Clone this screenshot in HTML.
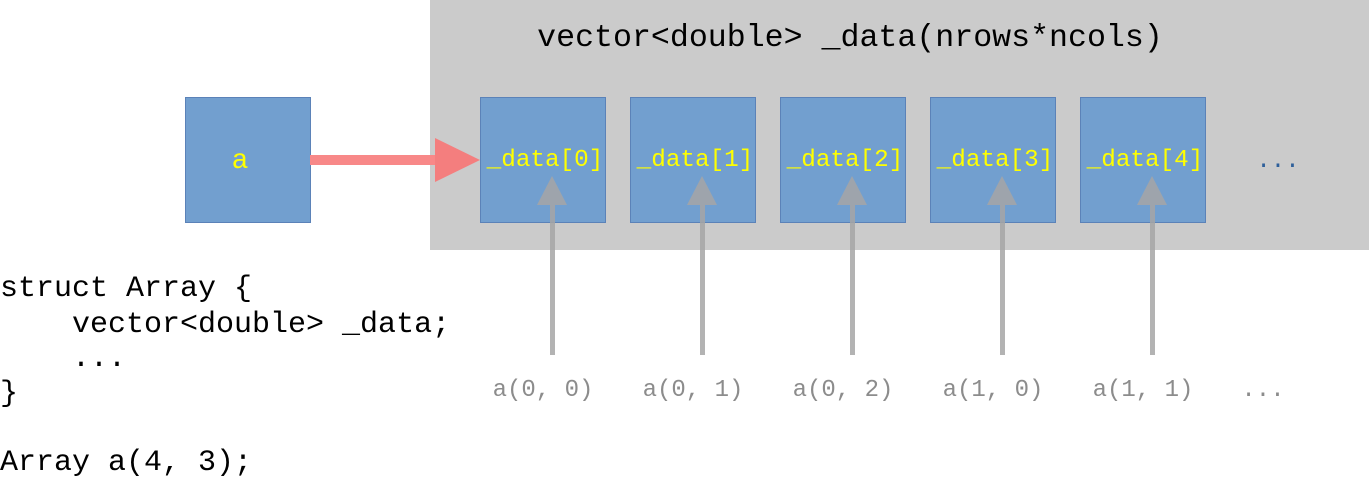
<!DOCTYPE html>
<html><head><meta charset="utf-8"><style>
html,body{margin:0;padding:0;background:#fff;}
svg{display:block;}
text{font-family:"Liberation Mono",monospace;}
</style></head><body>
<svg width="1369" height="479" viewBox="0 0 1369 479" xmlns="http://www.w3.org/2000/svg">
<rect x="430" y="0" width="939" height="250" fill="#cbcbcb"/>
<text x="850" y="46" font-size="31.6" text-anchor="middle" fill="#000">vector&lt;double&gt; _data(nrows*ncols)</text>
<rect x="185.5" y="97.5" width="125" height="125" fill="#729fcf" stroke="#5b82b8"/>
<text x="240" y="168" font-size="28" text-anchor="middle" fill="#ffff00">a</text>
<g fill="#729fcf" stroke="#5b82b8">
<rect x="480.5" y="97.5" width="125" height="125"/>
<rect x="630.5" y="97.5" width="125" height="125"/>
<rect x="780.5" y="97.5" width="125" height="125"/>
<rect x="930.5" y="97.5" width="125" height="125"/>
<rect x="1080.5" y="97.5" width="125" height="125"/>
</g>
<g font-size="24.3" fill="#ffff00" text-anchor="middle">
<text x="545" y="166">_data[0]</text>
<text x="695" y="166">_data[1]</text>
<text x="845" y="166">_data[2]</text>
<text x="995" y="166">_data[3]</text>
<text x="1145" y="166">_data[4]</text>
</g>
<text x="1278" y="167" font-size="24" text-anchor="middle" fill="#2e5f9a">...</text>
<rect x="310" y="155" width="128" height="10" fill="#f88888"/>
<polygon points="435,138 480,160 435,182" fill="#f47e7e"/>
<g fill="#a6a6a6" opacity="0.85">
<rect x="550" y="203" width="5" height="152"/><polygon points="537,205 552,176 567,205"/>
<rect x="700" y="203" width="5" height="152"/><polygon points="687,205 702,176 717,205"/>
<rect x="850" y="203" width="5" height="152"/><polygon points="837,205 852,176 867,205"/>
<rect x="1000" y="203" width="5" height="152"/><polygon points="987,205 1002,176 1017,205"/>
<rect x="1150" y="203" width="5" height="152"/><polygon points="1137,205 1152,176 1167,205"/>
</g>
<g font-size="24" fill="#8c8c8c" text-anchor="middle">
<text x="543" y="396">a(0, 0)</text>
<text x="693" y="396">a(0, 1)</text>
<text x="843" y="396">a(0, 2)</text>
<text x="993" y="396">a(1, 0)</text>
<text x="1143" y="396">a(1, 1)</text>
<text x="1263" y="396">...</text>
</g>
<g font-size="30" fill="#000">
<text x="0" y="296" xml:space="preserve">struct Array {</text>
<text x="0" y="332" xml:space="preserve">    vector&lt;double&gt; _data;</text>
<text x="0" y="366" xml:space="preserve">    ...</text>
<text x="0" y="401" xml:space="preserve">}</text>
<text x="0" y="470" xml:space="preserve">Array a(4, 3);</text>
</g>
</svg>
</body></html>
